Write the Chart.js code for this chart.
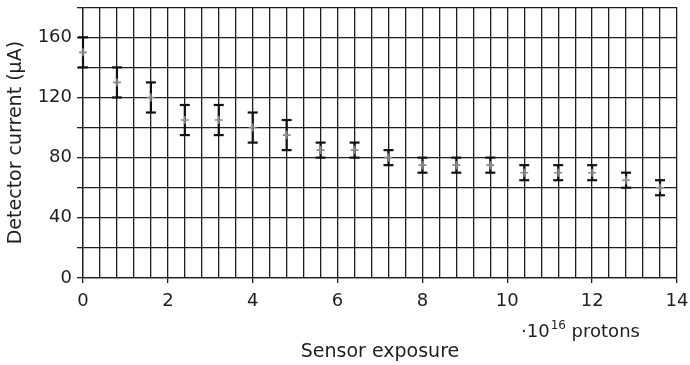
<!DOCTYPE html>
<html><head><meta charset="utf-8">
<script src="https://cdn.jsdelivr.net/npm/chart.js@4/dist/chart.umd.min.js"></script>
<style>html,body{margin:0;padding:0;background:#fff;} #wrap{width:690px;height:365px;}</style>
</head><body><div id="wrap"><canvas id="c" width="690" height="365"></canvas></div>
<script>
const exposure    = [0, 0.8, 1.6, 2.4, 3.2, 4.0, 4.8, 5.6, 6.4, 7.2, 8.0, 8.8, 9.6, 10.4, 11.2, 12.0, 12.8, 13.6];
const currentMean = [150, 130, 120, 105, 105, 100, 95, 85, 85, 80, 75, 75, 75, 70, 70, 70, 65, 60];
const currentLow  = [140, 120, 110, 95, 95, 90, 85, 80, 80, 75, 70, 70, 70, 65, 65, 65, 60, 55];
const currentHigh = [160, 140, 130, 115, 115, 110, 105, 90, 90, 85, 80, 80, 80, 75, 75, 75, 70, 65];
const xTickLabels = ['0', '2', '4', '6', '8', '10', '12', '14'];
const yTickLabels = ['0', '40', '80', '120', '160'];

const FONT = "'DejaVu Sans', sans-serif";
const INK = '#1e1e1e';

const pts = (ys) => exposure.map((x, i) => ({x: x, y: ys[i]}));
const stems = [];
exposure.forEach((x, i) => {
  stems.push({x: x, y: currentLow[i]});
  stems.push({x: x, y: currentHigh[i]});
  stems.push({x: x, y: null});
});

const labelOf = (v) => String(Math.round(v * 10) / 10);

const textPlugin = {
  id: 'texts',
  afterDraw(chart) {
    const ctx = chart.ctx;
    const a = chart.chartArea;
    ctx.save();
    ctx.fillStyle = INK;
    // y title
    ctx.save();
    ctx.translate(16, (a.top + a.bottom) / 2);
    ctx.rotate(-Math.PI / 2);
    ctx.font = "19px " + FONT;
    ctx.textAlign = 'center';
    ctx.textBaseline = 'middle';
    ctx.fillText('Detector current (\u00B5A)', 0, 0);
    ctx.restore();
    // x title
    ctx.font = "19px " + FONT;
    ctx.textAlign = 'center';
    ctx.textBaseline = 'alphabetic';
    ctx.fillText('Sensor exposure', (a.left + a.right) / 2, 357);
    // unit
    ctx.textAlign = 'left';
    ctx.font = "18px " + FONT;
    let x = 521;
    ctx.fillText('\u00B710', x, 337);
    x += ctx.measureText('\u00B710').width;
    ctx.font = "12px " + FONT;
    ctx.fillText('16', x + 1, 329);
    x += ctx.measureText('16').width + 1;
    ctx.font = "18px " + FONT;
    ctx.fillText(' protons', x, 337);
    ctx.restore();
  }
};

new Chart(document.getElementById('c'), {
  type: 'scatter',
  data: {
    datasets: [
      {
        label: 'mean', data: pts(currentMean), pointStyle: 'cross', pointRadius: 4,
        borderColor: '#8a8a8a', backgroundColor: '#8a8a8a', pointBorderWidth: 1.6, clip: false
      },
      {
        label: 'high', data: pts(currentHigh), pointStyle: 'line', pointRadius: 5,
        borderColor: '#111', pointBorderWidth: 2.2, clip: false
      },
      {
        label: 'low', data: pts(currentLow), pointStyle: 'line', pointRadius: 5,
        borderColor: '#111', pointBorderWidth: 2.2, clip: false
      },
      {
        type: 'line', label: 'range', data: stems, showLine: true, spanGaps: false,
        borderColor: '#111', borderWidth: 2.2, pointRadius: 0, clip: false
      }
    ]
  },
  options: {
    responsive: false,
    animation: false,
    events: [],
    layout: {padding: {top: 5, right: 13, left: 0, bottom: 0}},
    plugins: {legend: {display: false}, tooltip: {enabled: false}},
    scales: {
      x: {
        type: 'linear', min: 0, max: 14,
        afterFit(s) { s.height = 87; s.paddingLeft = 0; s.paddingRight = 0; },
        border: {display: true, color: INK, width: 1.3},
        grid: {
          color: INK, lineWidth: 1.3, drawTicks: true, tickLength: 5,
          tickColor: (c) => (c.tick && xTickLabels.includes(labelOf(c.tick.value))) ? INK : 'rgba(0,0,0,0)'
        },
        ticks: {
          stepSize: 0.4, autoSkip: false, maxRotation: 0, padding: 8,
          color: INK, font: {family: FONT, size: 18},
          callback: (v) => xTickLabels.includes(labelOf(v)) ? labelOf(v) : ''
        }
      },
      y: {
        type: 'linear', min: 0, max: 180,
        afterFit(s) { s.width = 83; s.paddingTop = 0; s.paddingBottom = 0; },
        border: {display: true, color: INK, width: 1.3},
        grid: {color: INK, lineWidth: 1.3, drawTicks: true, tickLength: 6, tickColor: INK},
        ticks: {
          stepSize: 20, autoSkip: false, padding: 5,
          color: INK, font: {family: FONT, size: 18},
          callback: (v) => yTickLabels.includes(String(v)) ? String(v) : ''
        }
      }
    }
  },
  plugins: [textPlugin]
});
</script>
</body></html>
